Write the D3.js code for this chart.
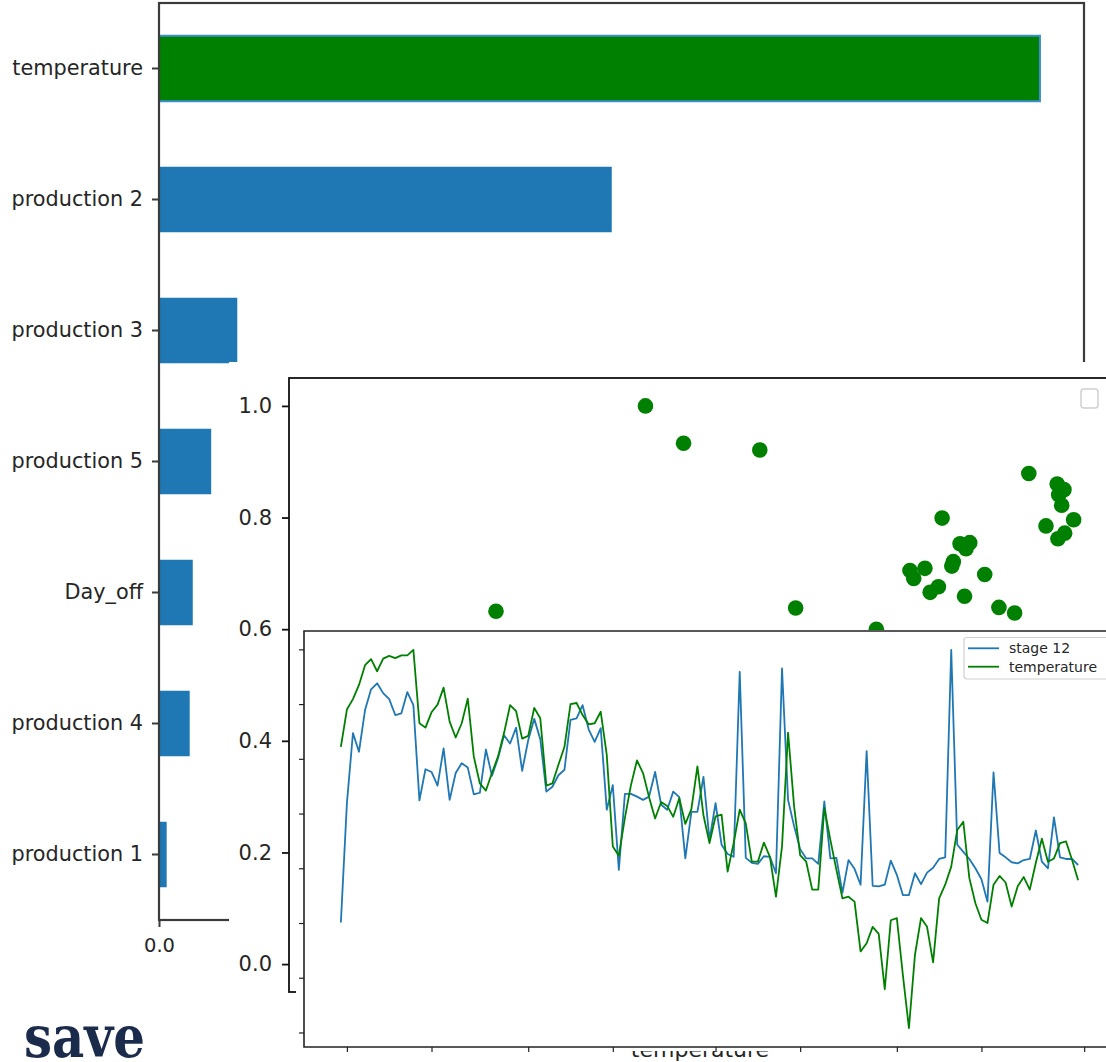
<!DOCTYPE html>
<html>
<head>
<meta charset="utf-8">
<script src="https://cdn.jsdelivr.net/npm/d3@7"></script>
<style>
  body { margin: 0; background: #fff; }
  svg { display: block; font-family: "DejaVu Sans", sans-serif; }
  text { fill: #262626; }
</style>
</head>
<body>
<svg id="chart" width="1106" height="1062"></svg>
<script>
// ---- feature importance (horizontal bars) ----
const featureNames = ["temperature", "production 2", "production 3", "production 5", "Day_off", "production 4", "production 1"];
const featureImportance = [0.574, 0.295, 0.051, 0.034, 0.022, 0.020, 0.005];
const highlightedFeature = "temperature";

// ---- normalised stage 12 against normalised temperature (scatter) ----
const scatterTemperature = [0.227, 0.427, 0.478, 0.580, 0.628, 0.736, 0.824, 0.940, 0.978, 0.987,
  0.980, 0.984, 1.000, 0.963, 0.988, 0.979, 0.848, 0.861, 0.856, 0.839,
  0.837, 0.781, 0.801, 0.786, 0.819, 0.808, 0.881, 0.854, 0.900, 0.921];
const scatterStage12 = [0.632, 1.000, 0.933, 0.921, 0.638, 0.600, 0.799, 0.879, 0.860, 0.850,
  0.841, 0.822, 0.796, 0.785, 0.772, 0.762, 0.753, 0.755, 0.744, 0.721,
  0.713, 0.705, 0.709, 0.691, 0.676, 0.666, 0.698, 0.659, 0.639, 0.629];
const scatterYTicks = [0.0, 0.2, 0.4, 0.6, 0.8, 1.0];

// ---- daily series (line chart) ----
const seriesStart = "2019-08-31";
const stage12 = [0.101, 0.319, 0.447, 0.413, 0.489, 0.527, 0.538, 0.520, 0.509, 0.480,
  0.483, 0.522, 0.498, 0.324, 0.381, 0.376, 0.351, 0.419, 0.325, 0.374,
  0.392, 0.384, 0.335, 0.338, 0.417, 0.369, 0.401, 0.443, 0.428, 0.457,
  0.378, 0.434, 0.473, 0.436, 0.340, 0.349, 0.370, 0.380, 0.471, 0.474,
  0.498, 0.454, 0.431, 0.456, 0.307, 0.352, 0.197, 0.336, 0.336, 0.331,
  0.325, 0.331, 0.376, 0.316, 0.307, 0.340, 0.330, 0.218, 0.303, 0.303,
  0.367, 0.252, 0.319, 0.243, 0.226, 0.221, 0.559, 0.219, 0.210, 0.208,
  0.222, 0.221, 0.191, 0.565, 0.325, 0.277, 0.235, 0.218, 0.218, 0.208,
  0.322, 0.218, 0.219, 0.155, 0.215, 0.199, 0.170, 0.414, 0.168, 0.167,
  0.170, 0.214, 0.188, 0.151, 0.151, 0.191, 0.171, 0.192, 0.201, 0.217,
  0.220, 0.599, 0.243, 0.230, 0.217, 0.200, 0.180, 0.139, 0.375, 0.228,
  0.220, 0.211, 0.209, 0.215, 0.217, 0.269, 0.212, 0.200, 0.293, 0.220,
  0.217, 0.217, 0.206];
const temperature = [0.422, 0.490, 0.509, 0.535, 0.571, 0.582, 0.560, 0.583, 0.588, 0.584,
  0.589, 0.589, 0.599, 0.465, 0.457, 0.485, 0.499, 0.530, 0.468, 0.439,
  0.465, 0.510, 0.404, 0.355, 0.342, 0.374, 0.404, 0.447, 0.498, 0.487,
  0.437, 0.442, 0.493, 0.474, 0.351, 0.355, 0.389, 0.422, 0.500, 0.502,
  0.480, 0.463, 0.465, 0.486, 0.407, 0.240, 0.223, 0.292, 0.352, 0.397,
  0.374, 0.330, 0.291, 0.321, 0.314, 0.294, 0.328, 0.281, 0.308, 0.386,
  0.297, 0.246, 0.295, 0.298, 0.194, 0.246, 0.307, 0.282, 0.212, 0.212,
  0.247, 0.221, 0.148, 0.240, 0.448, 0.313, 0.224, 0.212, 0.161, 0.161,
  0.310, 0.252, 0.197, 0.145, 0.148, 0.139, 0.048, 0.063, 0.093, 0.080,
  -0.021, 0.105, 0.109, 0.005, -0.092, 0.042, 0.109, 0.093, 0.028, 0.145,
  0.170, 0.203, 0.270, 0.285, 0.182, 0.136, 0.106, 0.100, 0.170, 0.186,
  0.174, 0.130, 0.167, 0.184, 0.161, 0.210, 0.254, 0.212, 0.218, 0.246,
  0.249, 0.215, 0.178];
const dateTicks = ["2019-09-01", "2019-09-15", "2019-10-01", "2019-10-15", "2019-11-01",
  "2019-11-15", "2019-12-01", "2019-12-15", "2020-01-01"];
const valueTicks = [-0.1, 0.0, 0.1, 0.2, 0.3, 0.4, 0.5, 0.6];
const seriesNames = ["stage 12", "temperature"];

const BLUE = "#1f77b4", GREEN = "#008000";
const svg = d3.select("#chart");

function styleAxis(g, fontSize, color, width) {
  g.attr("font-family", null).attr("font-size", null);
  g.select(".domain").remove();
  g.selectAll(".tick line").attr("stroke", color).attr("stroke-width", width);
  g.selectAll(".tick text").attr("font-size", fontSize).style("fill", "#262626");
}

// ================= panel 1: bar chart =================
{
  const box = { left: 159, right: 1084, top: 3, bottom: 920 };
  const g = svg.append("g");
  const x = d3.scaleLinear()
    .domain([0, d3.max(featureImportance) * 1.05])
    .range([box.left, box.right]);
  const y = d3.scaleBand()
    .domain(featureNames)
    .range([box.top, box.bottom])
    .paddingInner(0.5)
    .paddingOuter(0.25);

  g.selectAll("rect.bar")
    .data(featureNames.map((n, i) => ({ name: n, value: featureImportance[i] })))
    .join("rect")
    .attr("class", "bar")
    .attr("x", x(0))
    .attr("y", d => y(d.name))
    .attr("width", d => x(d.value) - x(0))
    .attr("height", y.bandwidth())
    .attr("fill", d => d.name === highlightedFeature ? GREEN : BLUE)
    .attr("stroke", d => d.name === highlightedFeature ? "#3c8fcf" : "none")
    .attr("stroke-width", 2);

  g.append("g")
    .attr("transform", `translate(${box.left},0)`)
    .call(d3.axisLeft(y).tickSize(7).tickPadding(9))
    .call(a => styleAxis(a, 20.8, "#3b3b3b", 2));

  g.append("g")
    .attr("transform", `translate(0,${box.bottom})`)
    .call(d3.axisBottom(x).ticks(6).tickFormat(d3.format(".1f")).tickSize(7).tickPadding(11))
    .call(a => styleAxis(a, 19.5, "#3b3b3b", 2));

  g.append("rect")
    .attr("x", box.left).attr("y", box.top)
    .attr("width", box.right - box.left).attr("height", box.bottom - box.top)
    .attr("fill", "none").attr("stroke", "#3b3b3b").attr("stroke-width", 2.2);
}

// ================= panel 2: scatter =================
{
  const sheet = { left: 229, top: 362 };
  const box = { left: 289, right: 1111, top: 378, bottom: 992 };
  const g = svg.append("g");
  g.append("rect")
    .attr("x", sheet.left).attr("y", sheet.top)
    .attr("width", 1106 - sheet.left).attr("height", 1062 - sheet.top)
    .attr("fill", "#fff");

  const x = d3.scaleLinear().domain([-0.05, 1.05]).range([box.left, box.right]);
  const y = d3.scaleLinear().domain([-0.05, 1.05]).range([box.bottom, box.top]);

  g.selectAll("circle")
    .data(scatterTemperature.map((t, i) => [t, scatterStage12[i]]))
    .join("circle")
    .attr("cx", d => x(d[0]))
    .attr("cy", d => y(d[1]))
    .attr("r", 7.8)
    .attr("fill", GREEN);

  g.append("g")
    .attr("transform", `translate(${box.left},0)`)
    .call(d3.axisLeft(y).tickValues(scatterYTicks).tickFormat(d3.format(".1f")).tickSize(7).tickPadding(10))
    .call(a => styleAxis(a, 21, "#111", 1.8));

  g.append("g")
    .attr("transform", `translate(0,${box.bottom})`)
    .call(d3.axisBottom(x).ticks(6).tickFormat(d3.format(".1f")).tickSize(7).tickPadding(10))
    .call(a => styleAxis(a, 21, "#111", 1.8));

  g.append("rect")
    .attr("x", box.left).attr("y", box.top)
    .attr("width", box.right - box.left).attr("height", box.bottom - box.top)
    .attr("fill", "none").attr("stroke", "#111").attr("stroke-width", 1.8);

  // empty legend frame
  g.append("rect")
    .attr("x", 1081).attr("y", 389).attr("width", 17).attr("height", 19)
    .attr("rx", 3).attr("fill", "#fff").attr("stroke", "#d0d0d0").attr("stroke-width", 1.5);

  g.append("text")
    .attr("x", (box.left + box.right) / 2).attr("y", 1057)
    .attr("text-anchor", "middle").attr("font-size", 22)
    .text("temperature");
}

// ================= panel 3: line chart =================
{
  const sheet = { left: 296, top: 630, bottom: 1051 };
  const box = { left: 304, right: 1115, top: 631, bottom: 1047 };
  const g = svg.append("g");
  g.append("rect")
    .attr("x", sheet.left).attr("y", sheet.top)
    .attr("width", 1106 - sheet.left).attr("height", sheet.bottom - sheet.top)
    .attr("fill", "#fff");

  const start = new Date(seriesStart + "T00:00:00Z");
  const dates = stage12.map((_, i) => d3.utcDay.offset(start, i));
  const span = dates[dates.length - 1] - dates[0];
  const x = d3.scaleUtc()
    .domain([new Date(+dates[0] - span * 0.05), new Date(+dates[dates.length - 1] + span * 0.05)])
    .range([box.left, box.right]);

  const [lo, hi] = d3.extent(stage12.concat(temperature));
  const pad = (hi - lo) * 0.05;
  const y = d3.scaleLinear().domain([lo - pad, hi + pad]).range([box.bottom, box.top]);

  const line = d3.line().x((d, i) => x(dates[i])).y(d => y(d));
  const series = [
    { name: seriesNames[0], values: stage12, color: BLUE },
    { name: seriesNames[1], values: temperature, color: GREEN }
  ];
  g.selectAll("path.series")
    .data(series)
    .join("path")
    .attr("class", "series")
    .attr("d", d => line(d.values))
    .attr("fill", "none")
    .attr("stroke", d => d.color)
    .attr("stroke-width", 1.8)
    .attr("stroke-linejoin", "round");

  g.append("g")
    .attr("transform", `translate(${box.left},0)`)
    .call(d3.axisLeft(y).tickValues(valueTicks).tickFormat("").tickSize(5))
    .call(a => styleAxis(a, 12, "#222", 1.2));

  g.append("g")
    .attr("transform", `translate(0,${box.bottom})`)
    .call(d3.axisBottom(x).tickValues(dateTicks.map(s => new Date(s + "T00:00:00Z"))).tickFormat("").tickSize(5))
    .call(a => styleAxis(a, 12, "#222", 1.2));

  g.append("path")
    .attr("d", `M${1106},${box.top}H${box.left}V${box.bottom}H${1106}`)
    .attr("fill", "none").attr("stroke", "#222").attr("stroke-width", 1.6);

  // legend
  const lg = g.append("g");
  lg.append("rect")
    .attr("x", 964).attr("y", 637.5).attr("width", 150).attr("height", 41.5)
    .attr("rx", 3).attr("fill", "#fff").attr("fill-opacity", 0.8)
    .attr("stroke", "#d0d0d0").attr("stroke-width", 1.2);
  series.forEach((s, i) => {
    const yy = 648.3 + i * 18.4;
    lg.append("line").attr("x1", 968).attr("x2", 999).attr("y1", yy).attr("y2", yy)
      .attr("stroke", s.color).attr("stroke-width", 1.8);
    lg.append("text").attr("x", 1009).attr("y", yy).attr("dy", "0.35em")
      .attr("font-size", 14).text(s.name);
  });
}

// ================= logo =================
svg.append("text")
  .attr("x", 24).attr("y", 1057)
  .attr("textLength", 121)
  .attr("lengthAdjust", "spacingAndGlyphs")
  .style("font-family", "'DejaVu Serif', serif")
  .style("font-weight", "bold")
  .style("font-size", "58px")
  .style("fill", "#1b2b4b")
  .text("save");
</script>
</body>
</html>
